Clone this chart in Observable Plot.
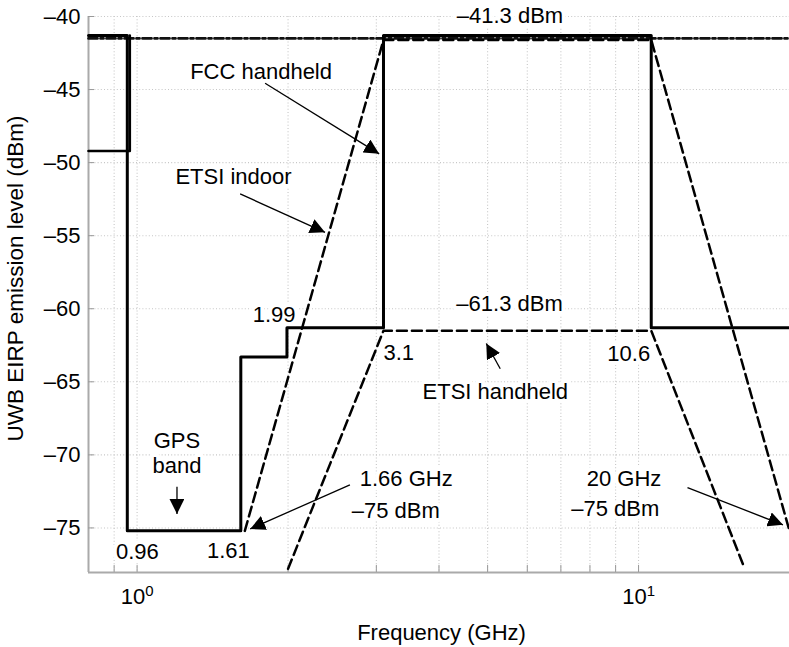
<!DOCTYPE html>
<html><head><meta charset="utf-8">
<script src="https://cdn.jsdelivr.net/npm/d3@7"></script>
<script src="https://cdn.jsdelivr.net/npm/@observablehq/plot@0.6"></script>
<style>body{margin:0;background:#fff}</style>
</head><body>
<div id="chart"></div>
<script>
// FCC handheld mask (solid)
const fccFreq  = [0.8, 0.956, 0.956, 1.61, 1.61, 1.99, 1.99, 3.1, 3.1, 10.6, 10.6, 20];
const fccLevel = [-41.3, -41.3, -75.2, -75.2, -63.3, -63.3, -61.3, -61.3, -41.3, -41.3, -61.3, -61.3];
// lower-band solid segment below 0.96 GHz
const fccLowFreq  = [0.8, 0.967, 0.967];
const fccLowLevel = [-49.2, -49.2, -41.3];
// ETSI indoor (dashed)
const etsiIndoorFreq  = [1.64, 3.1, 10.6, 20];
const etsiIndoorLevel = [-75.2, -41.6, -41.6, -75.2];
// ETSI handheld (dashed)
const etsiHandFreq  = [2.0, 3.1, 10.6, 16.2];
const etsiHandLevel = [-77.8, -61.5, -61.5, -77.6];
// -41.3 dBm limit (dash-dot)
const limitFreq  = [0.8, 20];
const limitLevel = [-41.5, -41.5];

// axes
const xGridTicks = [0.9, 1, 2, 3, 4, 5, 6, 7, 8, 9, 10];
const xLabelTicks = [1, 10];
const yTicks = [-75, -70, -65, -60, -55, -50, -45, -40];
const xTitle = "Frequency (GHz)";
const yTitle = "UWB EIRP emission level (dBm)";

// annotations (frequency GHz, level dBm)
const labelsMiddle = [
  {label: "–41.3 dBm", f: 5.54, l: -39.86},
  {label: "–61.3 dBm", f: 5.53, l: -59.57},
  {label: "ETSI handheld", f: 5.18, l: -65.62},
  {label: "FCC handheld", f: 1.767, l: -43.7},
  {label: "ETSI indoor", f: 1.557, l: -50.89},
  {label: "1.99", f: 1.876, l: -60.36},
  {label: "3.1", f: 3.325, l: -62.95},
  {label: "10.6", f: 9.56, l: -62.99},
  {label: "GPS\nband", f: 1.201, l: -69.83},
  {label: "0.96", f: 1.0014, l: -76.58},
  {label: "1.61", f: 1.521, l: -76.53}
];
const labelsStart = [
  {label: "1.66 GHz", f: 2.78, l: -71.55},
  {label: "–75 dBm", f: 2.68, l: -73.77}
];
const labelsEnd = [
  {label: "20 GHz", f: 11.1, l: -71.55},
  {label: "–75 dBm", f: 11.0, l: -73.63}
];
const arrows = [
  {f1: 1.800, l1: -44.57, f2: 3.039, l2: -49.40},
  {f1: 1.605, l1: -52.14, f2: 2.370, l2: -54.77},
  {f1: 5.299, l1: -64.11, f2: 4.970, l2: -62.38},
  {f1: 1.201, l1: -72.19, f2: 1.201, l2: -74.04},
  {f1: 2.657, l1: -72.05, f2: 1.681, l2: -75.07},
  {f1: 12.52, l1: -72.24, f2: 19.41, l2: -74.79}
];

const rows = (f, l) => f.map((x, i) => ({f: x, l: l[i]}));
const gridStyle = {stroke: "#c6c6c6", strokeOpacity: 1, strokeDasharray: "1,2.2", strokeWidth: 1.1};
const textStyle = {x: "f", y: "l", text: "label", fill: "black", stroke: "white", strokeWidth: 8, fontSize: 22, lineHeight: 1.15};

const svg = Plot.plot({
  width: 789, height: 647,
  marginLeft: 88, marginRight: 0, marginTop: 16, marginBottom: 75,
  style: {fontFamily: "'Liberation Sans', Arial, Helvetica, sans-serif", fontSize: "22px", background: "white", overflow: "visible"},
  x: {type: "log", domain: [0.8, 20]},
  y: {domain: [-78.05, -40]},
  marks: [
    Plot.gridX(xGridTicks, gridStyle),
    Plot.gridY(yTicks, gridStyle),
    Plot.ruleX([0.8], {stroke: "#aaa", strokeWidth: 2}),
    Plot.ruleY([-78.05], {stroke: "#aaa", strokeWidth: 2}),
    Plot.tickX(xGridTicks, {x: d => d, insetTop: 549, stroke: "#999"}),
    Plot.tickY(yTicks, {y: d => d, insetRight: 695, stroke: "#999"}),
    Plot.axisY(yTicks, {tickSize: 0, tickPadding: 8, tickFormat: d => "–" + Math.abs(d), label: null, fontSize: 22}),
    Plot.axisX(xLabelTicks, {tickSize: 0, tickPadding: 16, tickFormat: () => "10", label: null, fontSize: 22}),
    Plot.text([yTitle], {frameAnchor: "left", textAnchor: "middle", lineAnchor: "middle", dx: -73, dy: -16, rotate: -90, fontSize: 22.5}),
    Plot.text([xTitle], {frameAnchor: "bottom", textAnchor: "middle", lineAnchor: "middle", dy: 60, dx: 2.5, fontSize: 22}),
    Plot.text(labelsMiddle, {...textStyle, textAnchor: "middle"}),
    Plot.text(labelsStart, {...textStyle, textAnchor: "start"}),
    Plot.text(labelsEnd, {...textStyle, textAnchor: "end"}),
    Plot.line(rows(limitFreq, limitLevel), {x: "f", y: "l", stroke: "#111", strokeWidth: 2.8, strokeDasharray: "9,3,3,3"}),
    Plot.line(rows(etsiIndoorFreq, etsiIndoorLevel), {x: "f", y: "l", stroke: "black", strokeWidth: 2.5, strokeDasharray: "10,5"}),
    Plot.line(rows(etsiHandFreq, etsiHandLevel), {x: "f", y: "l", stroke: "black", strokeWidth: 2.5, strokeDasharray: "10,5"}),
    Plot.line(rows(fccLowFreq, fccLowLevel), {x: "f", y: "l", stroke: "black", strokeWidth: 2.6}),
    Plot.line(rows(fccFreq, fccLevel), {x: "f", y: "l", stroke: "black", strokeWidth: 3}),
    Plot.link(arrows, {x1: "f1", y1: "l1", x2: "f2", y2: "l2", stroke: "black", strokeWidth: 1.3})
  ]
});

const s = d3.select(svg);
const defs = s.insert("defs", ":first-child");
defs.append("marker").attr("id", "ah").attr("viewBox", "0 0 15 15")
  .attr("refX", 15).attr("refY", 7.5).attr("markerWidth", 15).attr("markerHeight", 15)
  .attr("markerUnits", "userSpaceOnUse").attr("orient", "auto")
  .append("path").attr("d", "M0,0L15,7.5L0,15Z").attr("fill", "black");
s.selectAll('g[aria-label="link"] path').attr("marker-end", "url(#ah)");
s.selectAll('g[aria-label="x-axis tick label"] text').each(function(_, i) {
  const e = Math.round(Math.log10(xLabelTicks[i]));
  const t = d3.select(this);
  t.text("10");
  t.append("tspan").attr("dy", "-0.55em").attr("font-size", "0.68em").text(e);
});
document.getElementById("chart").appendChild(svg);
</script></body></html>
